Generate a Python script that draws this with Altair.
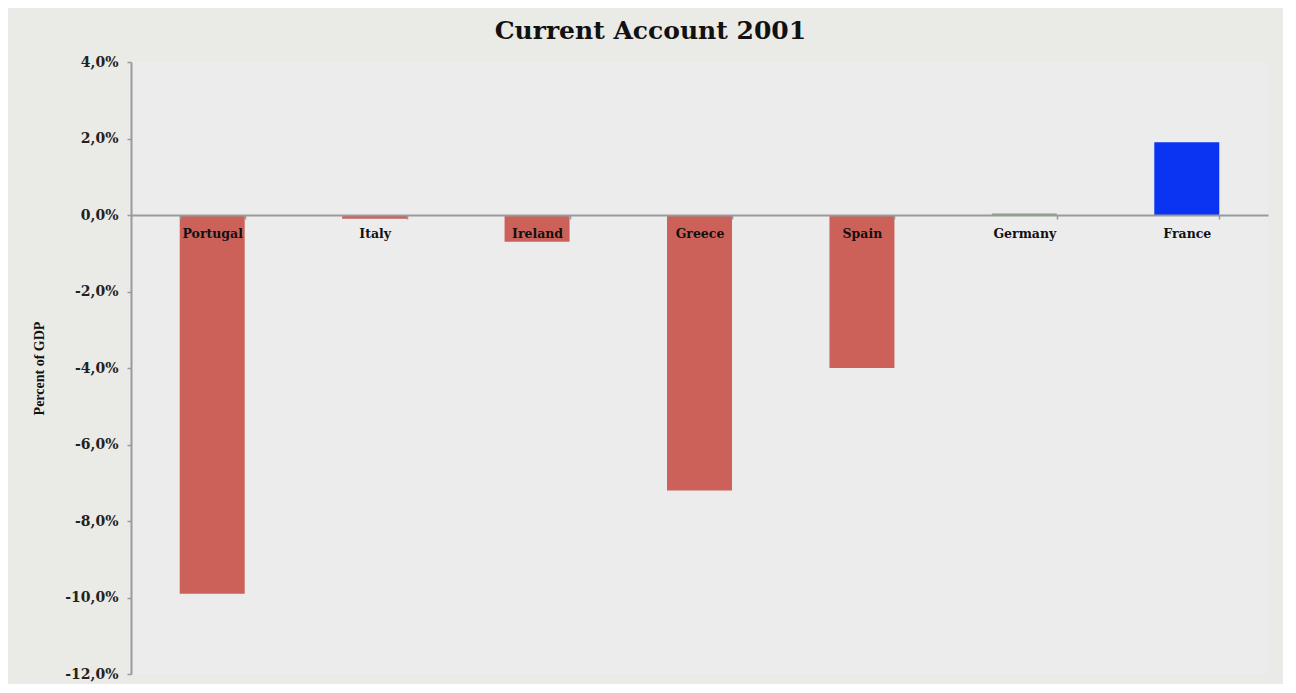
import altair as alt
import pandas as pd

countries = ["Portugal", "Italy", "Ireland", "Greece", "Spain", "Germany", "France"]
values = [-9.9, -0.1, -0.7, -7.2, -4.0, 0.04, 1.9]
colors = ["#CC6159", "#CC6159", "#CC6159", "#CC6159", "#CC6159", "#7FA77F", "#0B33F2"]
y_ticks = [4, 2, 0, -2, -4, -6, -8, -10, -12]

df = pd.DataFrame({"country": countries, "value": values, "color": colors})

W, H = 1137, 612
ymin, ymax = -12, 4
zero_offset = -H * (0 - ymin) / (ymax - ymin)

font = "DejaVu Serif"
font2 = "Liberation Serif"
label_expr = "replace(replace(format(datum.value, '.1f'), '.', ','), '\u2212', '-') + '%'"

chart = alt.Chart(df).mark_bar().encode(
    x=alt.X("country:N", sort=countries,
            scale=alt.Scale(paddingInner=0.6, paddingOuter=0.3),
            axis=alt.Axis(title=None, labelAngle=0, labelFont=font, labelFontWeight="bold",
                          labelFontSize=12.5, labelColor="#111", labelPadding=8,
                          domainColor="#9a9a9a", domainWidth=2, tickColor="#9a9a9a",
                          tickSize=4, tickWidth=1.5, tickBand="extent",
                          offset=zero_offset, zindex=1)),
    y=alt.Y("value:Q", scale=alt.Scale(domain=[ymin, ymax], nice=False),
            axis=alt.Axis(values=y_ticks, labelExpr=label_expr, title="Percent of GDP",
                          titleFont=font2, titleFontWeight="bold", titleFontSize=14,
                          titleColor="#111", titlePadding=18,
                          labelFont=font, labelFontWeight="bold", labelFontSize=14,
                          labelColor="#222", labelPadding=9, grid=False,
                          domainColor="#9a9a9a", domainWidth=2, tickColor="#9a9a9a",
                          tickSize=4, tickWidth=1.5)),
    color=alt.Color("color:N", scale=None),
).properties(
    width=W, height=H,
    title=alt.TitleParams("Current Account 2001", font=font, fontSize=25, fontWeight="bold",
                          color="#111", anchor="middle", frame="bounds", offset=11),
    background="#EAEAE6",
    padding={"left": 123, "top": 54, "right": 15, "bottom": 10},
    autosize=alt.AutoSizeParams(type="none"),
).configure_view(stroke=None, fill="#ECECEC")

chart.save("out.html", embed_options={"renderer": "svg", "actions": False})
